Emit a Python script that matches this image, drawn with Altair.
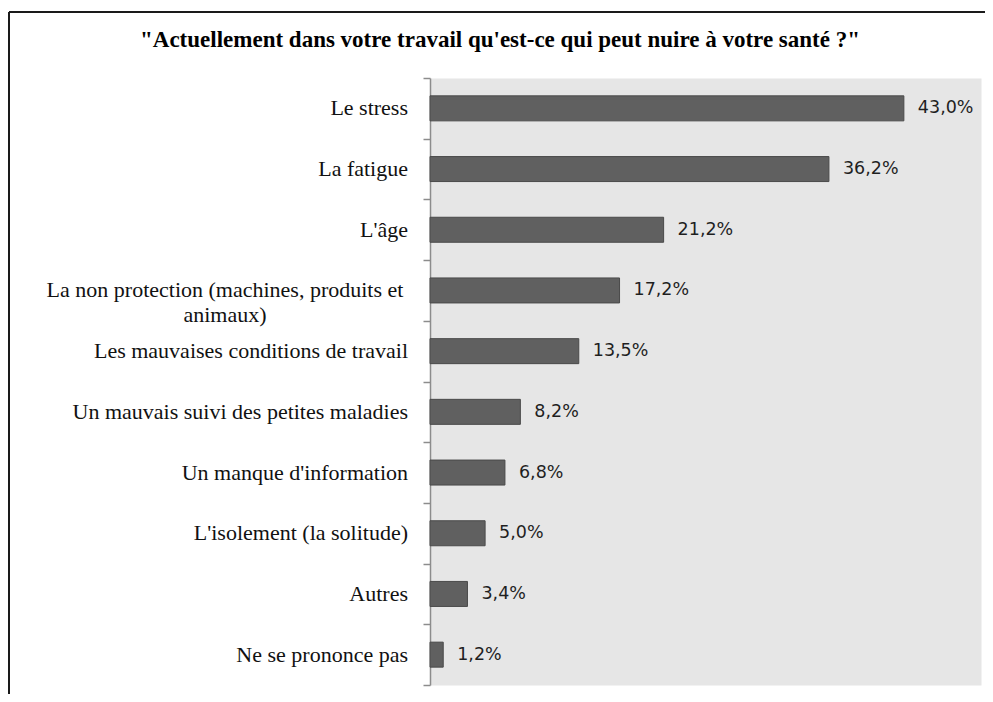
import altair as alt
import pandas as pd

categories = [
    "Le stress",
    "La fatigue",
    "L'âge",
    "La non protection (machines, produits et animaux)",
    "Les mauvaises conditions de travail",
    "Un mauvais suivi des petites maladies",
    "Un manque d'information",
    "L'isolement (la solitude)",
    "Autres",
    "Ne se prononce pas",
]
display_labels = [
    "Le stress",
    "La fatigue",
    "L'âge",
    "La non protection (machines, produits et\nanimaux)",
    "Les mauvaises conditions de travail",
    "Un mauvais suivi des petites maladies",
    "Un manque d'information",
    "L'isolement (la solitude)",
    "Autres",
    "Ne se prononce pas",
]
values = [43.0, 36.2, 21.2, 17.2, 13.5, 8.2, 6.8, 5.0, 3.4, 1.2]
title_text = "\"Actuellement dans votre travail qu'est-ce  qui peut nuire à votre santé ?\""

df = pd.DataFrame({
    "cat": categories,
    "lab": display_labels,
    "val": values,
    "txt": [f"{v:.1f}%".replace(".", ",") for v in values],
    "wrapped": ["\n" in s for s in display_labels],
})

W, H = 551, 607
SERIF = "Liberation Serif"

y_enc = alt.Y("cat:N", sort=categories,
              scale=alt.Scale(paddingInner=0, paddingOuter=0),
              axis=alt.Axis(labels=False, title=None, tickBand="extent",
                            domainColor="#8c8c8c", domainWidth=1.5,
                            tickColor="#8c8c8c", tickWidth=1.5, tickSize=7))
x_enc = alt.X("val:Q", scale=alt.Scale(domain=[0, 50]), axis=None)

base = alt.Chart(df)

bars = base.mark_bar(color="#606060", stroke="#4a4a4a", strokeWidth=1, size=25).encode(
    x=x_enc, y=y_enc
)
vals = base.mark_text(align="left", baseline="middle", dx=14, font="DejaVu Sans",
                      fontSize=17.5, color="#1f1f1f").encode(
    x="val:Q", y=alt.Y("cat:N", sort=categories), text="txt:N"
)
labs_single = base.transform_filter("!datum.wrapped").mark_text(
    align="right", baseline="middle", font=SERIF, fontSize=22, color="#111111"
).encode(x=alt.value(-22), y=alt.Y("cat:N", sort=categories), text="lab:N")
labs_wrapped = base.transform_filter("datum.wrapped").mark_text(
    align="center", baseline="middle", font=SERIF, fontSize=22, color="#111111",
    lineBreak="\n", lineHeight=25
).encode(x=alt.value(-205), y=alt.Y("cat:N", sort=categories), text="lab:N")

deco = alt.Chart(pd.DataFrame({"t": [title_text]}))
title = deco.mark_text(align="center", baseline="alphabetic", font=SERIF, fontSize=23,
                       fontWeight="bold", color="#000000").encode(
    x=alt.value(70), y=alt.value(-31), text="t:N"
)
top_border = deco.mark_rule(color="#1a1a1a", strokeWidth=2).encode(
    x=alt.value(-421), x2=alt.value(560), y=alt.value(-66)
)
left_border = deco.mark_rule(color="#1a1a1a", strokeWidth=2).encode(
    x=alt.value(-421), y=alt.value(-66), y2=alt.value(620)
)

chart = alt.layer(bars, vals, labs_single, labs_wrapped, title, top_border, left_border).properties(
    width=W, height=H,
    autosize=alt.AutoSizeParams(type="none"),
    padding={"left": 422, "top": 70, "right": 4, "bottom": 9},
    background="white",
).configure_view(fill="#e6e6e6", stroke="transparent")

chart.save("out.html", embed_options={"renderer": "svg", "actions": False})
